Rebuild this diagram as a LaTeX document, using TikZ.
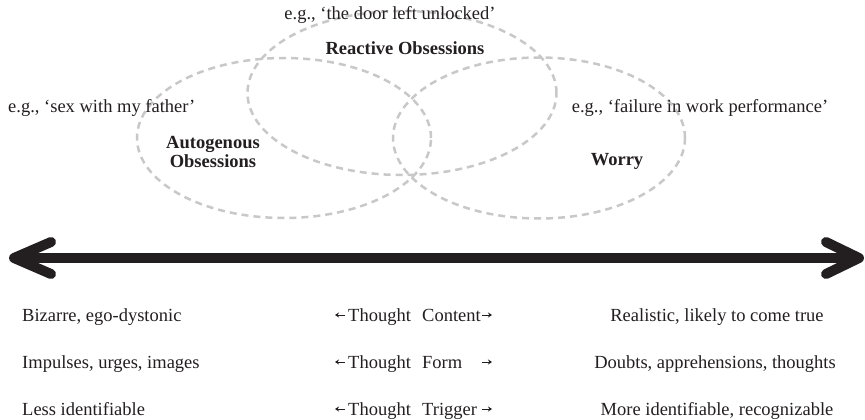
\documentclass[tikz,border=0pt]{standalone}
\usepackage{fontspec}
\setmainfont{Liberation Serif}
\usetikzlibrary{shapes.geometric,arrows.meta}
\definecolor{ink}{HTML}{231F20}
\definecolor{dashgray}{RGB}{200,200,200}
\tikzset{
  venn/.style={draw=dashgray, ellipse, line width=2.5pt, dash pattern=on 7pt off 5pt, inner sep=0pt},
  txt/.style={text=ink, inner sep=0pt, font=\fontsize{18.5}{20}\selectfont},
  btxt/.style={txt, font=\fontsize{18.5}{20}\selectfont\bfseries, align=center},
  bigarrow/.style={draw=ink, line width=10pt, line cap=round, line join=round},
  smallarrow/.style={draw=ink, line width=1pt, -{Stealth[length=4pt,width=5pt]}},
}
\begin{document}
\begin{tikzpicture}[x=1pt,y=-1pt]
\useasboundingbox (0,0) rectangle (865,420);

% Venn ellipses
\node[venn, minimum width=294pt, minimum height=160pt] (auto) at (284,138) {};
\node[venn, minimum width=309pt, minimum height=164pt] (react) at (402,93) {};
\node[venn, minimum width=292pt, minimum height=161pt] (worry) at (539,138) {};

% Top labels
\node[txt, anchor=base] (ex1) at (390,20) {e.g., ‘the door left unlocked’};
\node[btxt, anchor=base] (lab1) at (405,55) {Reactive Obsessions};
\node[txt, anchor=base west] (ex2) at (8,113) {e.g., ‘sex with my father’};
\node[btxt, anchor=base] (lab2a) at (213,148) {Autogenous};
\node[btxt, anchor=base] (lab2b) at (213,167) {Obsessions};
\node[txt, anchor=base] (ex3) at (700,113) {e.g., ‘failure in work performance’};
\node[btxt, anchor=base] (lab3) at (617,165) {Worry};

% Big double arrow
\coordinate (tipL) at (14,258);
\coordinate (tipR) at (859,258);
\coordinate (aL1) at (51,242);
\coordinate (aL2) at (51,274);
\coordinate (aR1) at (826,242);
\coordinate (aR2) at (826,274);
\draw[bigarrow, line cap=butt] (tipL) -- (tipR);
\draw[bigarrow] (aL1) -- (tipL) -- (aL2);
\draw[bigarrow] (aR1) -- (tipR) -- (aR2);

% Rows
\node[txt, anchor=base west] (l1) at (22,321) {Bizarre, ego-dystonic};
\node[txt, anchor=base west] (l2) at (22,368) {Impulses, urges, images};
\node[txt, anchor=base west] (l3) at (22,415) {Less identifiable};

\node[txt, anchor=base] (r1) at (717,321) {Realistic, likely to come true};
\node[txt, anchor=base] (r2) at (715,368) {Doubts, apprehensions, thoughts};
\node[txt, anchor=base] (r3) at (717,415) {More identifiable, recognizable};

\node[txt, anchor=base west] (m1) at (348,321) {\makebox[74pt][l]{Thought}Content};
\node[txt, anchor=base west] (m2) at (348,368) {\makebox[74pt][l]{Thought}Form};
\node[txt, anchor=base west] (m3) at (348,415) {\makebox[74pt][l]{Thought}Trigger};

\foreach \i/\y in {1/315,2/362,3/409}{
  \coordinate (sl\i a) at (345,\y);
  \coordinate (sl\i b) at (335,\y);
  \coordinate (sr\i a) at (482,\y);
  \coordinate (sr\i b) at (492,\y);
  \draw[smallarrow] (sl\i a) -- (sl\i b);
  \draw[smallarrow] (sr\i a) -- (sr\i b);
}
\end{tikzpicture}
\end{document}
